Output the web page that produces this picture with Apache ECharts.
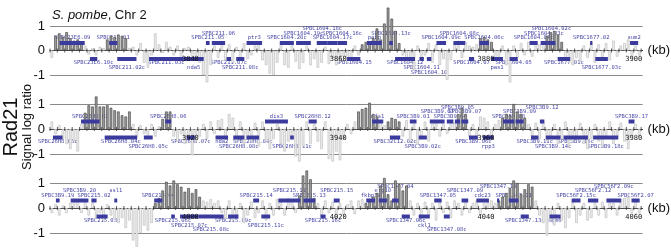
<!DOCTYPE html>
<html>
<head>
<meta charset="utf-8">
<script src="https://cdn.jsdelivr.net/npm/echarts@6/dist/echarts.min.js"></script>
<style>
html, body { margin: 0; padding: 0; background: #fff; }
#chart { width: 671px; height: 252px; }
</style>
</head>
<body>
<div id="chart"></div>
<script>
// one probe every 0.5 kb, first probe centred 0.25 kb after the row start
const rowStarts = [3821, 3901, 3981];
const rowSpan = 80.2;
const probeStep = 0.5;

const row1TickLabels = [3840, 3860, 3880, 3900];
const row2TickLabels = [3920, 3940, 3960, 3980];
const row3TickLabels = [4000, 4020, 4040, 4060];

const row1Values = [
    -0.3, 0.6, 0.7, 0.55, 0.75, 0.5, 0.4, 0.45, 0.3, 0.2, -0.15, 0.1, -0.2, 0.15, 0.1, 0.45, 0.6, 0.55, 0.65, 0.6,
    0.5, 0.1, 0.15, -0.2, 0.3, -0.5, -0.7, -0.2, 0.7, 0.25, -0.1, 0.35, 0.15, -0.2, 0.2, -0.3, 0.1, 0.15, -0.25, -0.4,
    -0.5, -1.0, -1.3, -0.6, 0.2, -0.3, 0.3, -0.4, 0.25, -0.5, 0.15, -0.3, 0.3, -0.35, -0.2, 0.2, 0.3, -0.4, -0.6, -0.95,
    -1.0, -0.5, 0.25, -0.6, -0.7, 0.3, -0.45, -0.75, -0.5, 0.2, -0.6, -0.35, -0.7, -0.5, 0.15, -0.55, -0.3, -0.6, -0.45, -0.25,
    -0.5, -0.3, 0.2, -0.2, 0.25, 0.35, 0.3, 0.5, 0.9, 0.45, 1.1, 1.75, 1.3, 0.8, 0.3, -0.2, -0.5, -0.3, -0.8, 0.2,
    -0.4, -0.2, 0.3, -0.5, 0.25, -0.6, -0.35, -1.2, -0.4, 0.3, 0.4, -0.3, 0.35, 0.2, 0.15, 0.25, 0.5, 0.55, 0.45, 0.35,
    -0.4, -0.3, 0.2, -0.6, -1.3, 0.2, -0.3, 0.3, -0.2, 0.35, -0.25, 0.3, 0.25, 0.35, 0.6, 0.75, 0.8, 0.65, 0.35, -0.4,
    -0.5, -0.6, -0.3, -0.45, 0.2, -0.3, 0.35, -0.5, 0.25, -0.35, 0.3, -0.4, 0.4, -0.25, 0.2, 0.3, 0.45, -0.3, 0.2, -0.2
];
const row2Values = [
    0.3, -0.2, 0.15, -0.4, -0.6, -0.8, -0.5, -0.9, 0.2, 0.65, 0.95, 0.9, 1.3, 0.9, 0.9, 0.95, 0.85, 0.75, 0.7, 0.55,
    0.5, 0.7, 0.2, -0.3, 0.15, -0.2, -0.35, 0.2, -0.3, 0.1, 0.4, 0.7, 0.7, -0.3, -0.5, -0.2, -0.6, -0.35, -1.05, -0.5,
    -0.3, 0.2, -0.4, 0.3, -0.2, 0.35, 0.4, -0.3, 0.6, 0.45, -0.5, 0.3, -0.6, -0.4, -0.5, 0.25, -0.7, 0.3, -0.5, -0.8,
    -0.4, 0.2, -0.6, -0.9, -0.5, -0.3, -1.1, -1.3, -0.7, 0.3, -0.6, 0.2, -0.5, -0.8, 0.3, -1.2, -1.3, -0.9, -1.25, -0.4,
    0.2, -0.2, 0.3, 0.7, 0.8, 0.85, 1.05, 0.6, 0.5, 0.3, 0.15, 0.3, 0.45, 0.4, 0.3, -0.3, 0.35, -0.5, 0.2, -0.6,
    -0.4, 0.3, -0.5, 0.2, 0.3, -0.3, 0.2, -0.2, 0.3, 0.25, 0.6, 0.85, 0.6, -0.3, 0.2, -0.4, 0.5, 0.45, 0.3, -0.3,
    0.2, 0.35, 0.45, 0.6, 0.55, 1.0, 0.7, 0.6, 0.45, 0.2, -0.3, 0.25, -0.4, 0.3, -0.5, -0.3, 0.2, -0.6, -0.4, 0.3,
    -0.7, -0.5, -0.3, 0.25, -0.6, -0.8, -0.4, 0.2, -0.5, -0.7, -0.3, 0.3, -0.6, -0.4, 0.25, -0.5, -0.8, -0.3, 0.2, -0.3
];
const row3Values = [
    -0.2, 0.15, -0.3, 0.1, -0.2, 0.2, 0.3, 0.25, -0.2, 0.3, -0.3, 0.2, -0.4, -0.2, -0.5, 0.15, -0.3, -0.45, -0.6, -0.4,
    -0.8, -0.5, -1.3, -1.55, -1.0, -0.7, -0.9, -0.6, 0.2, 0.4, 0.7, 1.05, 0.9, 1.1, 0.95, 0.85, 0.65, 0.8, 0.6, 0.75,
    0.45, 0.3, 0.25, 0.35, 0.2, 0.3, -0.2, -0.4, 0.3, -0.5, -0.3, 0.2, -0.6, -0.3, 0.25, -0.4, -0.2, 0.3, -0.5, 0.2,
    -0.3, 0.35, 0.25, -0.3, 0.4, 0.3, -0.2, 0.5, 1.3, 1.5, 1.15, 0.4, 0.2, -0.3, 0.3, -0.2, 0.25, -0.4, 0.2, -0.3,
    0.15, 0.3, -0.25, 0.3, 0.35, 0.2, 0.25, 0.45, 0.6, 0.9, 1.2, 0.55, 0.3, 1.1, 0.95, 0.7, 0.9, 0.3, -0.3, 0.2,
    -0.4, 0.25, -0.3, 0.2, -0.5, 0.3, -0.2, 0.25, -0.4, 0.3, 0.2, -0.3, 0.3, -0.2, 0.2, 0.3, -0.3, 0.2, 0.25, 0.3,
    0.2, 0.3, 0.45, 0.6, 0.8, 1.1, 1.0, 0.55, 0.75, 0.95, 0.85, 0.3, -0.3, -0.6, -1.1, -0.5, -0.7, 0.2, -0.5, -0.8,
    -0.4, 0.3, -0.6, -0.3, 0.2, -0.5, -0.4, 0.3, -0.3, 0.25, -0.4, 0.3, 0.2, -0.3, 0.35, 0.4, 0.45, -0.2, 0.3, -0.2
];

// enriched (Rad21 bound) stretches, kb
const row1Peaks = [[3821.5, 3825.5], [3828.6, 3831.5], [3863.1, 3868.5], [3879.1, 3881.0], [3888.1, 3890.5]];
const row2Peaks = [[3905.6, 3911.9], [3916.1, 3917.4], [3942.6, 3945.4], [3946.6, 3948.4], [3956.1, 3957.4], [3962.1, 3965.4]];
const row3Peaks = [[3995.1, 4001.4], [4014.6, 4016.9], [4023.6, 4029.4], [4041.6, 4046.4]];

// genes: start kb, end kb, strand, name
const row1Genes = [
    [3822.3, 3825.7, 1, 'SPBC23E6.09'], [3829.0, 3830.1, 1, 'SPBC211.01'], [3842.1, 3842.6, 1, 'SPBC211.05'],
    [3842.9, 3844.7, 1, 'SPBC211.06'], [3847.6, 3849.7, 1, 'ptr3'], [3852.1, 3854.0, 1, 'SPBC1604.20c'],
    [3854.3, 3856.3, 1, 'SPBC1604.19c'], [3857.1, 3858.6, 1, 'SPBC1604.18c'], [3858.6, 3859.9, 1, 'SPBC1604.17c'],
    [3859.9, 3861.2, 1, 'SPBC1604.16c'], [3863.9, 3865.9, 1, 'pabp'], [3866.9, 3867.4, 1, 'SPBC1604.13c'],
    [3873.3, 3874.6, 1, 'SPBC1604.09c'], [3875.6, 3877.2, 1, 'SPBC1604.08c'], [3879.1, 3880.4, 1, 'SPBC1604.06c'],
    [3885.9, 3887.0, 1, 'SPBC1604.04c'], [3887.4, 3888.3, 1, 'SPBC1604.03c'], [3888.3, 3889.4, 1, 'SPBC1604.02c'],
    [3894.1, 3894.4, 1, 'SPBC1677.02'], [3899.5, 3900.6, 1, 'sum2'],
    [3826.4, 3827.4, -1, 'SPBC23E6.10c'], [3830.1, 3832.7, -1, 'SPBC211.02c'], [3834.4, 3839.1, -1, 'SPBC211.03c'],
    [3839.1, 3841.8, -1, 'nda5'], [3844.9, 3845.5, -1, 'SPBC211.07c'], [3846.2, 3847.3, -1, 'SPBC211.08c'],
    [3861.2, 3863.0, -1, 'SPBC1604.15'], [3867.7, 3870.4, -1, 'SPBC1604.12'], [3871.0, 3871.6, -1, 'SPBC1604.11'],
    [3872.0, 3872.6, -1, 'SPBC1604.10'], [3877.7, 3878.4, -1, 'SPBC1604.07'], [3880.7, 3882.3, -1, 'pas1'],
    [3883.2, 3884.3, -1, 'SPBC1604.05'], [3889.7, 3891.4, -1, 'SPBC1677.01c'], [3894.8, 3896.5, -1, 'SPBC1677.03c']
];
const row2Genes = [
    [3905.2, 3907.7, 1, 'SPBC26H8.02'], [3916.6, 3917.4, 1, 'SPBC26H8.06'], [3930.1, 3933.2, 1, 'dis3'],
    [3936.0, 3937.1, 1, 'SPBC26H8.12'], [3944.6, 3946.1, 1, 'nfs1'], [3949.7, 3950.6, 1, 'SPBC3B9.01'],
    [3952.4, 3954.4, 1, 'SPBC3B9.03'], [3954.7, 3955.6, 1, 'SPBC3B9.04'], [3955.8, 3956.5, 1, 'SPBC3B9.05'],
    [3956.7, 3957.6, 1, 'SPBC3B9.07'], [3962.3, 3963.8, 1, 'SPBC3B9.08'], [3964.0, 3965.1, 1, 'SPBC3B9.09'],
    [3967.3, 3967.9, 1, 'SPBC3B9.12'], [3979.3, 3980.1, 1, 'SPBC3B9.17'],
    [3901.4, 3902.7, -1, 'SPBC26H8.03c'], [3908.4, 3912.8, -1, 'SPBC26H8.04c'], [3913.7, 3914.9, -1, 'SPBC26H8.05c'],
    [3919.5, 3920.6, -1, 'SPBC26H8.07c'], [3923.4, 3925.1, -1, 'nda2'], [3925.8, 3927.3, -1, 'SPBC26H8.08c'],
    [3927.6, 3929.3, -1, 'SPBC26H8.09c'], [3933.5, 3934.0, -1, 'SPBC26H8.11c'], [3947.0, 3948.4, -1, 'SPBC32C12.02c'],
    [3950.9, 3952.0, -1, 'SPBC3B9.02c'], [3957.7, 3958.9, -1, 'SPBC3B9.06c'], [3959.6, 3961.0, -1, 'rpp3'],
    [3966.1, 3967.1, -1, 'SPBC3B9.11c'], [3968.1, 3970.1, -1, 'SPBC3B9.14c'], [3970.5, 3973.8, -1, 'SPBC3B9.16c'],
    [3974.5, 3977.9, -1, 'SPBC3B9.18c']
];
const row3Genes = [
    [3981.8, 3982.3, 1, 'SPBC3B9.19'], [3983.8, 3986.2, 1, 'SPBC3B9.20'], [3986.6, 3987.3, 1, 'SPBC215.02'],
    [3989.7, 3990.1, 1, 'ssl1'], [3995.1, 3996.2, 1, 'SPBC215.04'], [4008.5, 4009.3, 1, 'SPBC215.14'],
    [4011.9, 4014.9, 1, 'SPBC215.12'], [4015.3, 4016.9, 1, 'SPBC215.13'], [4019.4, 4020.2, 1, 'SPBC215.15'],
    [4023.8, 4025.0, 1, 'fkbp39'], [4025.5, 4026.6, 1, 'erg10'], [4027.3, 4028.2, 1, 'SPBC1347.04'],
    [4033.0, 4034.0, 1, 'SPBC1347.05'], [4036.7, 4037.6, 1, 'SPBC1347.09'], [4038.7, 4040.4, 1, 'cdc23'],
    [4041.5, 4041.8, 1, 'SPBC1347.10'], [4043.1, 4044.4, 1, 'SPBC1347.11'], [4051.6, 4052.8, 1, 'SPBC56F2.15c'],
    [4053.8, 4055.2, 1, 'SPBC56F2.12'], [4056.3, 4058.3, 1, 'SPBC56F2.09c'], [4059.7, 4060.8, 1, 'SPBC56F2.07'],
    [3987.3, 3988.8, -1, 'SPBC215.03c'], [3997.4, 3997.9, -1, 'SPBC215.06c'], [3998.6, 4001.1, -1, 'SPBC215.07c'],
    [4001.1, 4004.5, -1, 'SPBC215.08c'], [4005.1, 4006.5, -1, 'SPBC215.09c'], [4009.6, 4010.8, -1, 'SPBC215.11c'],
    [4017.6, 4018.3, -1, 'SPBC215.16c'], [4028.6, 4029.7, -1, 'SPBC1347.06c'], [4030.9, 4032.4, -1, 'ckl1'],
    [4034.3, 4035.1, -1, 'SPBC1347.08c'], [4044.7, 4045.8, -1, 'SPBC1347.13c'], [4048.6, 4050.1, -1, 'mgm6']
];

const rows = [
    { start: rowStarts[0], values: row1Values, peaks: row1Peaks, genes: row1Genes, labels: row1TickLabels, top: 26, height: 49 },
    { start: rowStarts[1], values: row2Values, peaks: row2Peaks, genes: row2Genes, labels: row2TickLabels, top: 104, height: 50 },
    { start: rowStarts[2], values: row3Values, peaks: row3Peaks, genes: row3Genes, labels: row3TickLabels, top: 183, height: 50 }
];

const GRID_LEFT = 50;
const GRID_WIDTH = 598;
const PX_PER_KB = GRID_WIDTH / rowSpan;
const LABEL_FONT = '5.5px "DejaVu Sans Mono"';
const CHAR_W = 3.3;

const darkBar = { color: '#9c9c9c', borderColor: '#3a3a3a', borderWidth: 0.6 };
const lightBar = { color: '#ececec', borderColor: '#bababa', borderWidth: 0.6 };

// greedy stacking of gene names so that they do not overlap (3 lines per strand)
function stackLabels(genes) {
    let lastEnd = { '1': [-1e9, -1e9, -1e9], '-1': [-1e9, -1e9, -1e9] };
    return genes.slice().sort((a, b) => (a[0] + a[1]) - (b[0] + b[1])).map(g => {
        let mid = (g[0] + g[1]) / 2;
        let half = g[3].length * CHAR_W / PX_PER_KB / 2;
        let ends = lastEnd[String(g[2])];
        let level = ends.findIndex(e => e < mid - half);
        if (level < 0) level = ends.indexOf(Math.min(...ends));
        ends[level] = mid + half + 0.4;
        return g.concat(level);
    });
}

function inPeak(kb, peaks) {
    return peaks.some(p => kb >= p[0] && kb <= p[1]);
}

let grids = [], xAxes = [], yAxes = [], series = [];

rows.forEach((row, r) => {
    grids.push({ left: GRID_LEFT, width: GRID_WIDTH, top: row.top, height: row.height });

    // the axis only draws the zero line and the (kb) name; ticks and numbers are custom series
    xAxes.push({
        gridIndex: r,
        type: 'value',
        min: row.start,
        max: row.start + rowSpan,
        interval: 1,
        axisLine: { onZero: true, lineStyle: { color: '#444', width: 1 } },
        axisTick: { show: false },
        axisLabel: { show: false },
        splitLine: { show: false },
        name: '(kb)',
        nameLocation: 'end',
        nameGap: 5,
        nameTextStyle: { fontSize: 13, color: '#111', fontFamily: 'Liberation Sans' }
    });

    yAxes.push({
        gridIndex: r,
        type: 'value',
        min: -1,
        max: 1,
        interval: 1,
        axisLine: { show: false },
        axisTick: { show: false },
        axisLabel: { margin: 5, color: '#111', fontSize: 13, fontFamily: 'Liberation Sans', padding: [0, 0, 4, 0] },
        splitLine: { show: true, lineStyle: { color: '#8a8a8a', width: 1 } }
    });

    // probe bars
    series.push({
        type: 'bar',
        xAxisIndex: r,
        yAxisIndex: r,
        barWidth: 2.6,
        clip: false,
        silent: true,
        z: 2,
        data: row.values.map((v, i) => {
            let kb = row.start + 0.25 + i * probeStep;
            return { value: [kb, v], itemStyle: inPeak(kb, row.peaks) ? darkBar : lightBar };
        })
    });

    let laidOut = stackLabels(row.genes);

    // gene names (behind the bars, like the original)
    series.push({
        type: 'custom',
        xAxisIndex: r,
        yAxisIndex: r,
        silent: true,
        z: 1,
        encode: { x: [0, 1], y: 2 },
        data: laidOut.map(g => [g[0], g[1], 0]),
        renderItem: (params, api) => {
            let g = laidOut[params.dataIndex];
            let p = api.coord([(g[0] + g[1]) / 2, 0]);
            let dy = 12.5 + g[4] * 4.6;
            return {
                type: 'text',
                x: p[0],
                y: p[1] + (g[2] > 0 ? -dy : dy),
                style: { text: g[3], fill: '#4646a6', font: LABEL_FONT, align: 'center', verticalAlign: 'middle' }
            };
        }
    });

    // gene boxes (on top of the bars)
    series.push({
        type: 'custom',
        xAxisIndex: r,
        yAxisIndex: r,
        silent: true,
        z: 3,
        encode: { x: [0, 1], y: 2 },
        data: row.genes.map(g => [g[0], g[1], 0]),
        renderItem: (params, api) => {
            let g = row.genes[params.dataIndex];
            let s = api.coord([g[0], 0]);
            let e = api.coord([g[1], 0]);
            let yc = s[1] + (g[2] > 0 ? -7.5 : 8.5);
            return {
                type: 'rect',
                shape: { x: s[0], y: yc - 2, width: Math.max(e[0] - s[0], 1.5), height: 4 },
                style: { fill: '#3b3b9e' }
            };
        }
    });

    // 1 kb ticks crossing the zero line
    let ticks = [];
    for (let kb = Math.ceil(row.start); kb <= row.start + rowSpan; kb++) ticks.push([kb, 0]);
    series.push({
        type: 'custom',
        xAxisIndex: r,
        yAxisIndex: r,
        silent: true,
        z: 4,
        data: ticks,
        renderItem: (params, api) => {
            let p = api.coord([api.value(0), 0]);
            return {
                type: 'line',
                shape: { x1: p[0], y1: p[1] - 2, x2: p[0], y2: p[1] + 2 },
                style: { stroke: '#333', lineWidth: 0.8 }
            };
        }
    });

    // kb numbers just under the zero line
    series.push({
        type: 'custom',
        xAxisIndex: r,
        yAxisIndex: r,
        silent: true,
        z: 5,
        data: row.labels.map(v => [v, 0]),
        renderItem: (params, api) => {
            let p = api.coord([api.value(0), 0]);
            return {
                type: 'text',
                x: p[0],
                y: p[1] + 9,
                style: { text: String(row.labels[params.dataIndex]), fill: '#111', font: '7px "DejaVu Sans Mono"', align: 'center', verticalAlign: 'middle' }
            };
        }
    });
});

let chart = echarts.init(document.getElementById('chart'), null, { renderer: 'canvas' });
chart.setOption({
    animation: false,
    backgroundColor: '#fff',
    title: {
        text: '{i|S. pombe}, Chr 2',
        left: 52,
        top: 9,
        padding: 0,
        textStyle: {
            fontSize: 13, fontWeight: 'normal', color: '#111', fontFamily: 'Liberation Sans',
            rich: { i: { fontSize: 13, fontStyle: 'italic', color: '#111', fontFamily: 'Liberation Sans' } }
        }
    },
    graphic: [
        {
            type: 'text', x: 11, y: 127, rotation: Math.PI / 2,
            style: { text: 'Rad21', font: '20px "Liberation Sans"', fill: '#111', align: 'center', verticalAlign: 'middle' }
        },
        {
            type: 'text', x: 27, y: 127, rotation: Math.PI / 2,
            style: { text: 'Signal log ratio', font: '13px "Liberation Sans"', fill: '#111', align: 'center', verticalAlign: 'middle' }
        }
    ],
    grid: grids,
    xAxis: xAxes,
    yAxis: yAxes,
    series: series
});
</script>
</body>
</html>
